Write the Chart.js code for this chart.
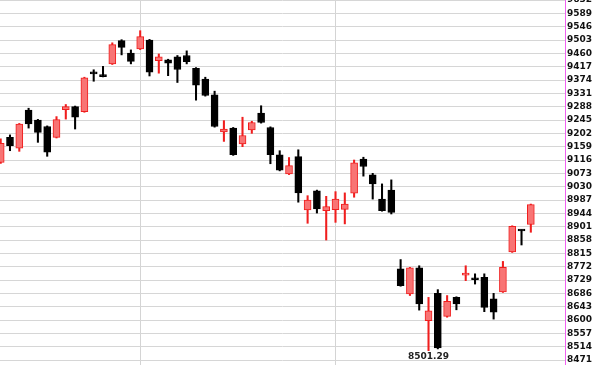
<!DOCTYPE html>
<html>
<head>
<meta charset="utf-8">
<script src="https://cdn.jsdelivr.net/npm/chart.js@4/dist/chart.umd.min.js"></script>
<style>
  html, body { margin: 0; padding: 0; background: #fff; }
  #wrap { width: 600px; height: 365px; }
</style>
</head>
<body>
<div id="wrap"><canvas id="kChart"></canvas></div>
<script>
// OHLC per trading day (left to right)
const OPEN  = [9108, 9189, 9154, 9277, 9245, 9224, 9189, 9278, 9288, 9272,
               9397, 9388, 9426, 9501, 9461, 9474, 9503, 9436, 9439, 9449,
               9453, 9412, 9377, 9326, 9207, 9219, 9168, 9213, 9267, 9221,
               9133, 9071, 9127, 8955, 9017, 8953, 8956, 8957, 9009, 9119,
               9068, 8990, 9019, 8765, 8684, 8768, 8598, 8686, 8612, 8673,
               8745, 8733, 8738, 8668, 8691, 8820, 8890, 8908];
const HIGH  = [9184, 9197, 9234, 9283, 9247, 9226, 9256, 9295, 9290, 9383,
               9407, 9418, 9494, 9504, 9471, 9533, 9505, 9458, 9441, 9453,
               9468, 9414, 9383, 9338, 9243, 9221, 9254, 9241, 9291, 9223,
               9146, 9124, 9149, 9001, 9019, 8999, 9014, 9010, 9116, 9125,
               9073, 9039, 9052, 8795, 8770, 8775, 8673, 8698, 8679, 8675,
               8775, 8749, 8749, 8686, 8789, 8904, 8891, 8974];
const LOW   = [9105, 9146, 9144, 9219, 9173, 9128, 9187, 9248, 9216, 9270,
               9370, 9384, 9424, 9455, 9426, 9472, 9387, 9396, 9388, 9366,
               9426, 9309, 9322, 9222, 9176, 9131, 9159, 9202, 9235, 9104,
               9081, 9069, 8980, 8912, 8945, 8858, 8915, 8910, 8996, 9064,
               8990, 8951, 8942, 8709, 8679, 8632, 8501.29, 8507, 8609, 8633,
               8727, 8716, 8627, 8603, 8689, 8818, 8842, 8883];
const CLOSE = [9170, 9162, 9232, 9232, 9205, 9141, 9246, 9288, 9254, 9381,
               9394, 9385, 9488, 9479, 9434, 9514, 9399, 9449, 9428, 9408,
               9433, 9357, 9324, 9224, 9216, 9133, 9195, 9237, 9237, 9133,
               9083, 9098, 9010, 8987, 8958, 8966, 8990, 8974, 9107, 9095,
               9039, 8953, 8947, 8711, 8768, 8652, 8630, 8510, 8660, 8652,
               8748, 8730, 8641, 8625, 8770, 8902, 8887, 8972];

const TICK_VALUES = [8471, 8514, 8557, 8600, 8643, 8686, 8729, 8772, 8815, 8858,
                     8901, 8944, 8987, 9030, 9073, 9116, 9159, 9202, 9245, 9288,
                     9331, 9374, 9417, 9460, 9503, 9546, 9589, 9632];
const MONTH_LINES = [15, 36];   // day index where a new month starts
const LOW_MARK = 46;            // day of the lowest low

const UP_LINE = '#f01e1e';
const UP_FILL = '#f87474';
const DOWN = '#000000';
const LABEL_FONT = { family: 'DejaVu Sans', size: 9, weight: 'bold' };

const isUp = i => CLOSE[i] >= OPEN[i];

const bodies = OPEN.map((o, i) => ({ x: i, y: [o, CLOSE[i]] }));
const wicks = LOW.map((l, i) => ({ x: i, y: [l, HIGH[i]] }));

// text under the lowest candle
const lowLabel = {
    id: 'lowLabel',
    afterDatasetsDraw(chart) {
        const c = chart.ctx;
        const x = chart.scales.x.getPixelForValue(LOW_MARK);
        const y = chart.scales.y.getPixelForValue(LOW[LOW_MARK]);
        c.save();
        c.font = 'bold 9px "DejaVu Sans"';
        c.fillStyle = '#222';
        c.textAlign = 'center';
        c.textBaseline = 'top';
        c.fillText(LOW[LOW_MARK].toFixed(2), x, y + 2);
        c.restore();
    }
};

new Chart(document.getElementById('kChart'), {
    type: 'bar',
    data: {
        datasets: [{
            label: 'body',
            data: bodies,
            order: 0,
            grouped: false,
            barThickness: 7,
            minBarLength: 2,
            borderWidth: 1,
            borderSkipped: false,
            backgroundColor: ctx => isUp(ctx.dataIndex) ? UP_FILL : DOWN,
            borderColor: ctx => isUp(ctx.dataIndex) ? UP_LINE : DOWN
        }, {
            label: 'wick',
            data: wicks,
            order: 1,
            grouped: false,
            barThickness: 1.4,
            borderWidth: 0,
            backgroundColor: ctx => isUp(ctx.dataIndex) ? UP_LINE : DOWN
        }]
    },
    options: {
        responsive: true,
        maintainAspectRatio: false,
        animation: false,
        layout: { padding: 0 },
        plugins: {
            legend: { display: false },
            tooltip: { enabled: false }
        },
        scales: {
            x: {
                type: 'linear',
                offset: false,
                min: -0.075,
                max: 60.675,
                afterBuildTicks: s => { s.ticks = MONTH_LINES.map(v => ({ value: v })); },
                afterFit: s => { s.height = 0; },
                grid: { color: '#d4d4d4', drawTicks: false, offset: false },
                border: { display: false },
                ticks: { display: false }
            },
            y: {
                position: 'right',
                min: 8455,
                max: 9632,
                beginAtZero: false,
                afterBuildTicks: s => { s.ticks = TICK_VALUES.map(v => ({ value: v })); },
                afterFit: s => { s.width = 35; s.paddingTop = 0; s.paddingBottom = 0; },
                grid: { color: '#d6d6d6', drawTicks: false },
                border: { color: '#f060f0', width: 1 },
                ticks: {
                    autoSkip: false,
                    padding: 2,
                    color: '#111',
                    font: LABEL_FONT,
                    crossAlign: 'near',
                    callback: v => String(Math.round(v))
                }
            }
        }
    },
    plugins: [lowLabel]
});
</script>
</body>
</html>
